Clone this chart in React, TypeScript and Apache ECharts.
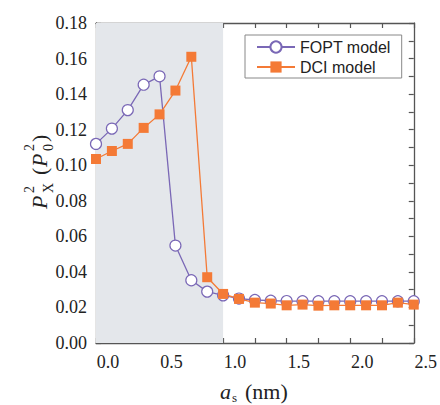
import React, { useEffect, useRef } from "react";
import * as echarts from "echarts";

const xValues = [0, 0.125, 0.25, 0.375, 0.5, 0.625, 0.75, 0.875, 1.0, 1.125, 1.25, 1.375, 1.5, 1.625, 1.75, 1.875, 2.0, 2.125, 2.25, 2.375, 2.5];
const foptValues = [0.112, 0.1206, 0.131, 0.1453, 0.150, 0.0548, 0.0353, 0.0289, 0.0268, 0.025, 0.0242, 0.0238, 0.0236, 0.0235, 0.0235, 0.0235, 0.0235, 0.0235, 0.0235, 0.0235, 0.0235];
const dciValues = [0.1035, 0.108, 0.112, 0.121, 0.1286, 0.142, 0.161, 0.037, 0.0276, 0.0248, 0.0227, 0.0222, 0.0212, 0.0216, 0.021, 0.0212, 0.0212, 0.0212, 0.0212, 0.0227, 0.0216];
const seriesNames = ["FOPT model", "DCI model"];
const shadedRange = [0, 1.0];

const SERIF = "'Liberation Serif', 'Times New Roman', serif";
const SANS = "'Liberation Sans', Arial, sans-serif";
const AXIS_COLOR = "#555";
const PURPLE = "#7a68b6";
const ORANGE = "#f47a36";

export default function App() {
  const ref = useRef<HTMLDivElement>(null);
  useEffect(() => {
    if (!ref.current) return;
    const chart = echarts.init(ref.current, null, { renderer: "svg" });
    const axisCommon = {
      axisLine: { show: true, onZero: false, lineStyle: { color: AXIS_COLOR, width: 1.3 } },
      axisTick: { show: true, inside: true, length: 5, lineStyle: { color: AXIS_COLOR, width: 1.2 } },
      splitLine: { show: false },
    };
    const option: any = {
      animation: false,
      backgroundColor: "#fff",
      grid: { left: 96, top: 23, right: 24, bottom: 62, containLabel: false },
      legend: {
        left: 245,
        top: 35,
        orient: "vertical",
        data: seriesNames,
        itemWidth: 38,
        itemHeight: 14,
        itemGap: 4,
        padding: [4, 11, 3, 11],
        borderColor: "#888",
        borderWidth: 1,
        backgroundColor: "#fff",
        textStyle: { fontFamily: SANS, fontSize: 16, color: "#222" },
      },
      xAxis: [
        {
          type: "value",
          min: 0,
          max: 2.5,
          interval: 0.25,
          position: "bottom",
          ...axisCommon,
          axisLabel: {
            margin: 10,
            fontFamily: SERIF,
            fontSize: 18,
            color: "#222",
            padding: [0, 0, 0, 24],
            formatter: (v: number) => (Math.round(v * 100) % 50 === 0 ? v.toFixed(1) : ""),
          },
        },
        {
          type: "value",
          min: 0,
          max: 2.5,
          interval: 0.25,
          position: "top",
          ...axisCommon,
          axisLabel: { show: false },
        },
      ],
      yAxis: [
        {
          type: "value",
          min: 0,
          max: 0.18,
          interval: 0.01,
          position: "left",
          ...axisCommon,
          axisLabel: {
            margin: 9,
            fontFamily: SERIF,
            fontSize: 18,
            color: "#222",
            formatter: (v: number) => (Math.round(v * 100) % 2 === 0 ? v.toFixed(2) : ""),
          },
        },
        {
          type: "value",
          min: 0,
          max: 0.18,
          interval: 0.01,
          position: "right",
          ...axisCommon,
          axisLabel: { show: false },
        },
      ],
      series: [
        {
          name: seriesNames[0],
          type: "line",
          data: xValues.map((x, i) => [x, foptValues[i]]),
          symbol: "circle",
          symbolSize: 11,
          lineStyle: { color: PURPLE, width: 1.3 },
          itemStyle: { color: "#fff", borderColor: PURPLE, borderWidth: 1.2 },
          z: 3,
          markArea: {
            silent: true,
            itemStyle: { color: "#e4e7eb" },
            data: [[{ xAxis: shadedRange[0] }, { xAxis: shadedRange[1] }]],
          },
        },
        {
          name: seriesNames[1],
          type: "line",
          data: xValues.map((x, i) => [x, dciValues[i]]),
          symbol: "rect",
          symbolSize: 10,
          lineStyle: { color: ORANGE, width: 1.3 },
          itemStyle: { color: ORANGE, borderColor: ORANGE, borderWidth: 0 },
          z: 4,
        },
      ],
      graphic: [
        {
          type: "group",
          x: 46,
          y: 209,
          rotation: Math.PI / 2,
          children: [
            { type: "text", x: 0, y: -7, style: { text: "P", font: `italic 22px ${SERIF}`, fill: "#222", align: "left", verticalAlign: "middle" } },
            { type: "text", x: 16, y: -17, style: { text: "2", font: `14px ${SERIF}`, fill: "#222", align: "left", verticalAlign: "middle" } },
            { type: "text", x: 16, y: 2, style: { text: "X", font: `14px ${SERIF}`, fill: "#222", align: "left", verticalAlign: "middle" } },
            { type: "text", x: 34, y: -7, style: { text: "(", font: `22px ${SERIF}`, fill: "#222", align: "left", verticalAlign: "middle" } },
            { type: "text", x: 42, y: -7, style: { text: "P", font: `italic 22px ${SERIF}`, fill: "#222", align: "left", verticalAlign: "middle" } },
            { type: "text", x: 58, y: -17, style: { text: "2", font: `14px ${SERIF}`, fill: "#222", align: "left", verticalAlign: "middle" } },
            { type: "text", x: 58, y: 2, style: { text: "0", font: `14px ${SERIF}`, fill: "#222", align: "left", verticalAlign: "middle" } },
            { type: "text", x: 67, y: -7, style: { text: ")", font: `22px ${SERIF}`, fill: "#222", align: "left", verticalAlign: "middle" } },
          ],
        },
        {
          type: "group",
          x: 220,
          y: 398,
          children: [
            { type: "text", x: 0, y: -7, style: { text: "a", font: `italic 22px ${SERIF}`, fill: "#222", align: "left", verticalAlign: "middle" } },
            { type: "text", x: 12, y: -1, style: { text: "s", font: `13px ${SERIF}`, fill: "#222", align: "left", verticalAlign: "middle" } },
            { type: "text", x: 25, y: -7, style: { text: "(nm)", font: `22px ${SERIF}`, fill: "#222", align: "left", verticalAlign: "middle" } },
          ],
        },
      ],
    };
    chart.setOption(option);
    return () => chart.dispose();
  }, []);
  return (
    <div
      ref={ref}
      style={{ position: "fixed", left: 0, top: 0, width: 440, height: 405 }}
    />
  );
}
